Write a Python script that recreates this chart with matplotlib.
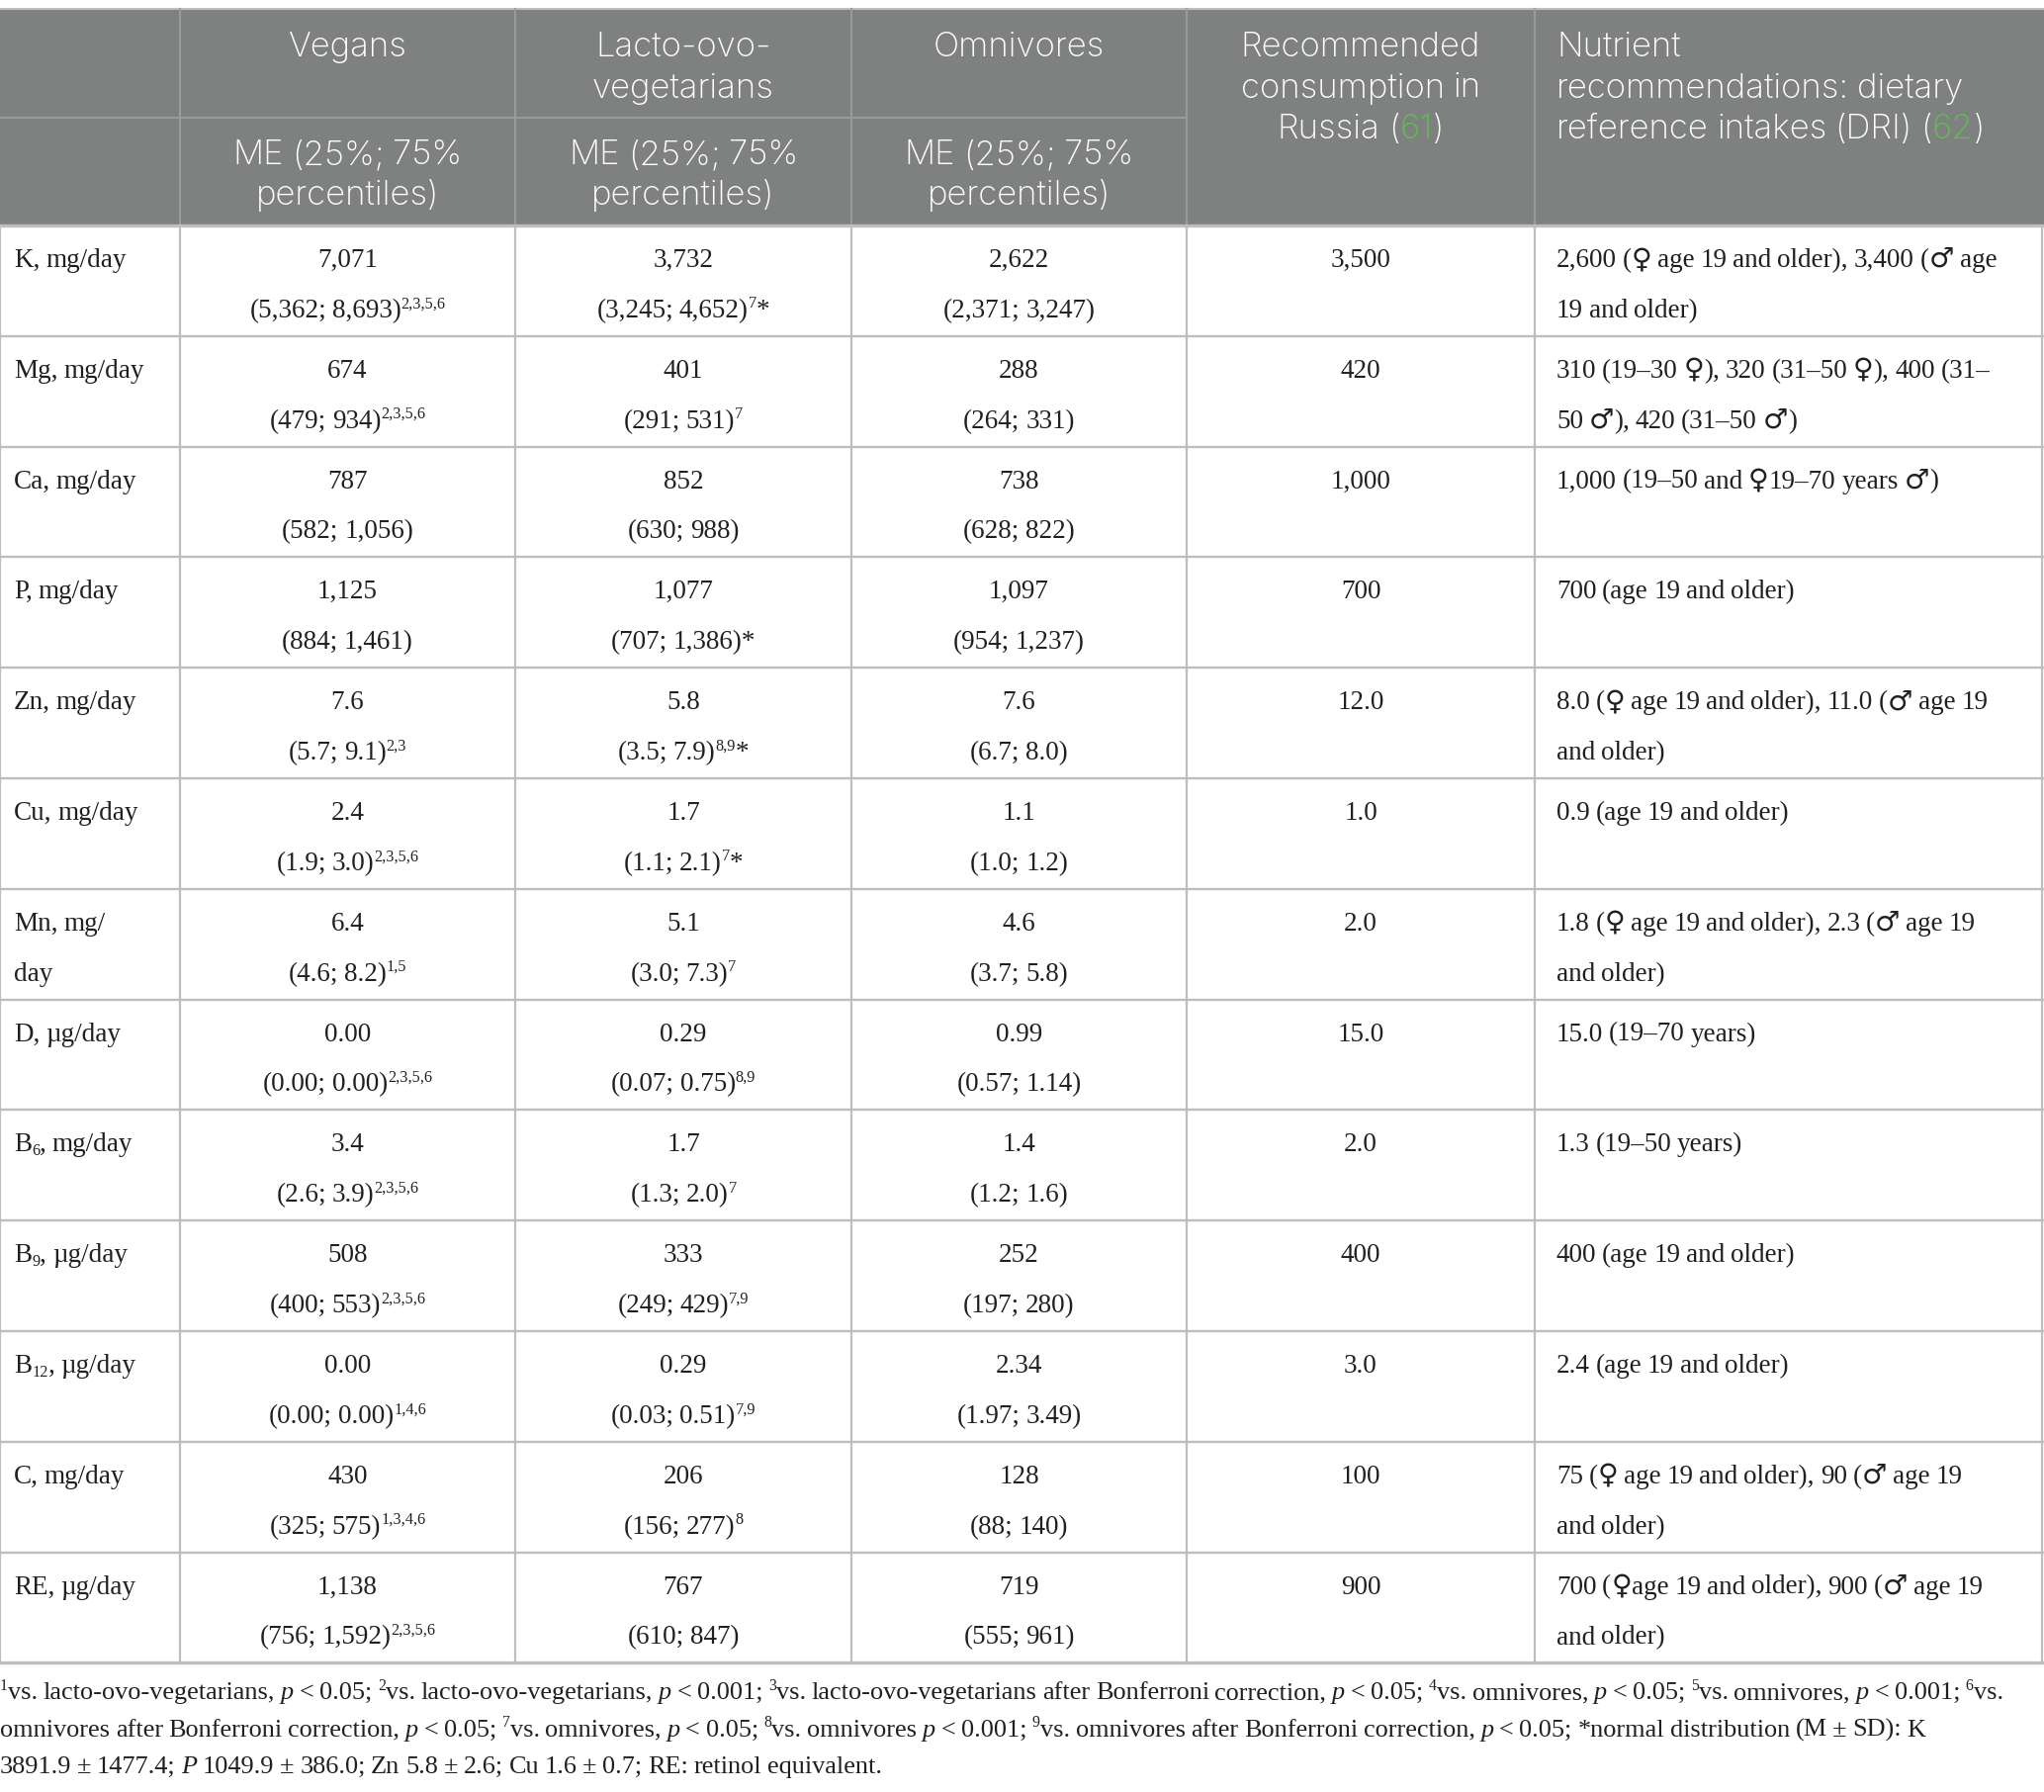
import re
import matplotlib
matplotlib.use("Agg")
import matplotlib.pyplot as plt
from matplotlib.patches import Rectangle

# ---- table data ----
groups = ["Vegans", "Lacto-ovo-\nvegetarians", "Omnivores"]
subhead = "ME (25%; 75%\npercentiles)"
russia_head = "Recommended\nconsumption in\nRussia (#{61})"
dri_head = "Nutrient\nrecommendations: dietary\nreference intakes (DRI) (#{62})"

nutrients = ["K, mg/day", "Mg, mg/day", "Ca, mg/day", "P, mg/day", "Zn, mg/day",
             "Cu, mg/day", "Mn, mg/\nday", "D, µg/day", "B_{6}, mg/day", "B_{9}, µg/day",
             "B_{12}, µg/day", "C, mg/day", "RE, µg/day"]

vegans_me = ["7,071", "674", "787", "1,125", "7.6", "2.4", "6.4", "0.00", "3.4", "508",
             "0.00", "430", "1,138"]
vegans_iqr = ["(5,362; 8,693)^{2,3,5,6}", "(479; 934)^{2,3,5,6}", "(582; 1,056)",
              "(884; 1,461)", "(5.7; 9.1)^{2,3}", "(1.9; 3.0)^{2,3,5,6}", "(4.6; 8.2)^{1,5}",
              "(0.00; 0.00)^{2,3,5,6}", "(2.6; 3.9)^{2,3,5,6}", "(400; 553)^{2,3,5,6}",
              "(0.00; 0.00)^{1,4,6}", "(325; 575)^{1,3,4,6}", "(756; 1,592)^{2,3,5,6}"]

lacto_me = ["3,732", "401", "852", "1,077", "5.8", "1.7", "5.1", "0.29", "1.7", "333",
            "0.29", "206", "767"]
lacto_iqr = ["(3,245; 4,652)^{7}*", "(291; 531)^{7}", "(630; 988)", "(707; 1,386)*",
             "(3.5; 7.9)^{8,9}*", "(1.1; 2.1)^{7}*", "(3.0; 7.3)^{7}", "(0.07; 0.75)^{8,9}",
             "(1.3; 2.0)^{7}", "(249; 429)^{7,9}", "(0.03; 0.51)^{7,9}", "(156; 277)^{8}",
             "(610; 847)"]

omni_me = ["2,622", "288", "738", "1,097", "7.6", "1.1", "4.6", "0.99", "1.4", "252",
           "2.34", "128", "719"]
omni_iqr = ["(2,371; 3,247)", "(264; 331)", "(628; 822)", "(954; 1,237)", "(6.7; 8.0)",
            "(1.0; 1.2)", "(3.7; 5.8)", "(0.57; 1.14)", "(1.2; 1.6)", "(197; 280)",
            "(1.97; 3.49)", "(88; 140)", "(555; 961)"]

russia = ["3,500", "420", "1,000", "700", "12.0", "1.0", "2.0", "15.0", "2.0", "400",
          "3.0", "100", "900"]

dri = ["2,600 (♀ age 19 and older), 3,400 (♂ age\n19 and older)",
       "310 (19–30 ♀), 320 (31–50 ♀), 400 (31–\n50 ♂), 420 (31–50 ♂)",
       "1,000 (19–50 and ♀19–70 years ♂)",
       "700 (age 19 and older)",
       "8.0 (♀ age 19 and older), 11.0 (♂ age 19\nand older)",
       "0.9 (age 19 and older)",
       "1.8 (♀ age 19 and older), 2.3 (♂ age 19\nand older)",
       "15.0 (19–70 years)",
       "1.3 (19–50 years)",
       "400 (age 19 and older)",
       "2.4 (age 19 and older)",
       "75 (♀ age 19 and older), 90 (♂ age 19\nand older)",
       "700 (♀age 19 and older), 900 (♂ age 19\nand older)"]

footnote = [
    "^{1}vs. lacto-ovo-vegetarians, ~{p} < 0.05; ^{2}vs. lacto-ovo-vegetarians, ~{p} < 0.001; "
    "^{3}vs. lacto-ovo-vegetarians after Bonferroni correction, ~{p} < 0.05; ^{4}vs. omnivores, "
    "~{p} < 0.05; ^{5}vs. omnivores, ~{p} < 0.001; ^{6}vs.",
    "omnivores after Bonferroni correction, ~{p} < 0.05; ^{7}vs. omnivores, ~{p} < 0.05; "
    "^{8}vs. omnivores ~{p} < 0.001; ^{9}vs. omnivores after Bonferroni correction, ~{p} < 0.05; "
    "*normal distribution (M ± SD): K",
    "3891.9 ± 1477.4; ~{P} 1049.9 ± 386.0; Zn 5.8 ± 2.6; Cu 1.6 ± 0.7; RE: retinol equivalent.",
]

# ---- layout (pixels) ----
W, H = 2067, 1812
col_x = [0, 182, 521, 861, 1200, 1552, 2065]
top, head_mid, head_bot = 9, 119, 228
row_h = 111.8

HEAD_BG = "#7f8080"
HEAD_LINE = "#9a9b9b"
GRID = "#bebebe"
GREEN = "#5cbf4f"
TXT = "#231f20"
SERIF = ["Liberation Serif", "DejaVu Serif"]
SANS = ["Inter", "DejaVu Sans"]
SYMBOL = ["DejaVu Sans"]
PX = 100 / 72
SPACE_K = 0.85

fig = plt.figure(figsize=(W / 100, H / 100), dpi=100)
ax = fig.add_axes([0, 0, 1, 1])
ax.set_xlim(0, W)
ax.set_ylim(H, 0)
ax.axis("off")
renderer = fig.canvas.get_renderer()

TOKEN = re.compile(r"(\^\{[^}]*\}|_\{[^}]*\}|~\{[^}]*\}|#\{[^}]*\})")
KINDS = {"^": "sup", "_": "sub", "~": "it", "#": "green"}


def parse(s):
    out = []
    for part in TOKEN.split(s):
        if not part:
            continue
        if part[0] in KINDS and part[1:2] == "{":
            out.append((part[2:-1], KINDS[part[0]]))
        else:
            out.append((part, "n"))
    return out


width_cache = {}


def ink_w(s, size, family, style="normal", weight="normal"):
    key = (s, size, family[0], style, weight)
    if key not in width_cache:
        t = ax.text(0, 0, s, fontsize=size, family=family, style=style, weight=weight)
        width_cache[key] = t.get_window_extent(renderer).width
        t.remove()
    return width_cache[key]


def adv_w(s, size, family, style="normal", weight="normal"):
    # advance of s measured against a bar glyph, keeps the side bearings
    return (ink_w(s + "|", size, family, style, weight)
            - ink_w("|", size, family, style, weight))


def draw_line(s, x, y, size, family, color=TXT, ha="left", weight="normal"):
    items = []
    for txt, kind in parse(s):
        fs = size * 0.6 if kind in ("sup", "sub") else size
        style = "italic" if kind == "it" else "normal"
        col = GREEN if kind == "green" else color
        dy = {"sup": -0.36 * size * PX, "sub": 0.14 * size * PX}.get(kind, 0)
        for piece in re.split(r"([ ♀♂])", txt):
            if piece == "":
                continue
            if piece == " ":
                w = (ink_w("x x", fs, family, style, weight)
                     - ink_w("xx", fs, family, style, weight)) * SPACE_K
                items.append([None, w, 0])
            elif piece in "♀♂":
                t = ax.text(0, 0, piece, fontsize=fs * 1.05, family=SYMBOL,
                            color=col, va="baseline", ha="left")
                items.append([t, adv_w(piece, fs * 1.05, SYMBOL), dy])
            else:
                t = ax.text(0, 0, piece, fontsize=fs, family=family, style=style,
                            color=col, weight=weight, va="baseline", ha="left")
                items.append([t, adv_w(piece, fs, family, style, weight), dy])
    # trim the trailing bearing of the last piece so centring uses ink width
    total = sum(w for _, w, _ in items)
    if items and items[-1][0] is not None:
        total += items[-1][0].get_window_extent(renderer).width - items[-1][1]
    cx = x - total / 2 if ha == "center" else x
    for t, w, dy in items:
        if t is not None:
            t.set_position((cx, y + dy))
        cx += w


def draw_block(s, x, y0, step, size, family, color=TXT, ha="left", weight="normal"):
    for k, line in enumerate(s.split("\n")):
        draw_line(line, x, y0 + k * step, size, family, color, ha, weight)


n = len(nutrients)
bottom = head_bot + n * row_h

# header background
ax.add_patch(Rectangle((0, top), W, head_bot - top, facecolor=HEAD_BG, edgecolor="none"))
ax.plot([0, W], [top, top], color=GRID, lw=1.5)
ax.plot([0, col_x[4]], [head_mid, head_mid], color=HEAD_LINE, lw=1.5)
for cx in col_x[1:-1]:
    ax.plot([cx, cx], [top, head_bot], color=HEAD_LINE, lw=1.5)

# body grid
for i in range(n + 1):
    y = head_bot + i * row_h
    ax.plot([0, W], [y, y], color=GRID, lw=2.4 if i in (0, n) else 1.7)
for cx in col_x:
    ax.plot([cx, cx], [head_bot, bottom], color=GRID, lw=1.6)

# header text
HS = 25
HSTEP = 41.5
for j, g in enumerate(groups):
    mid = (col_x[j + 1] + col_x[j + 2]) / 2
    draw_block(g, mid, 57, HSTEP, HS, SANS, "white", "center", "light")
    draw_block(subhead, mid, 166, HSTEP, HS, SANS, "white", "center", "light")
draw_block(russia_head, (col_x[4] + col_x[5]) / 2, 57, HSTEP, HS, SANS, "white", "center", "light")
draw_block(dri_head, col_x[5] + 22, 57, HSTEP, HS, SANS, "white", "left", "light")

# body text
BS = 19.5
BSTEP = 51
centre_cols = [(vegans_me, vegans_iqr), (lacto_me, lacto_iqr), (omni_me, omni_iqr)]
for i in range(n):
    ry = head_bot + i * row_h
    draw_block(nutrients[i], 14, ry + 42, BSTEP, BS, SERIF)
    for j, (me, iqr) in enumerate(centre_cols):
        mid = (col_x[j + 1] + col_x[j + 2]) / 2
        draw_line(me[i], mid, ry + 42, BS, SERIF, ha="center")
        draw_line(iqr[i], mid, ry + 93, BS, SERIF, ha="center")
    draw_line(russia[i], (col_x[4] + col_x[5]) / 2, ry + 42, BS, SERIF, ha="center")
    draw_block(dri[i], col_x[5] + 22, ry + 42, BSTEP, BS, SERIF)

# footnote
FS = 18.9
for k, line in enumerate(footnote):
    draw_line(line, 0, bottom + 37 + k * 37.5, FS, SERIF)

fig.savefig("out.png", dpi=100, facecolor="white")
